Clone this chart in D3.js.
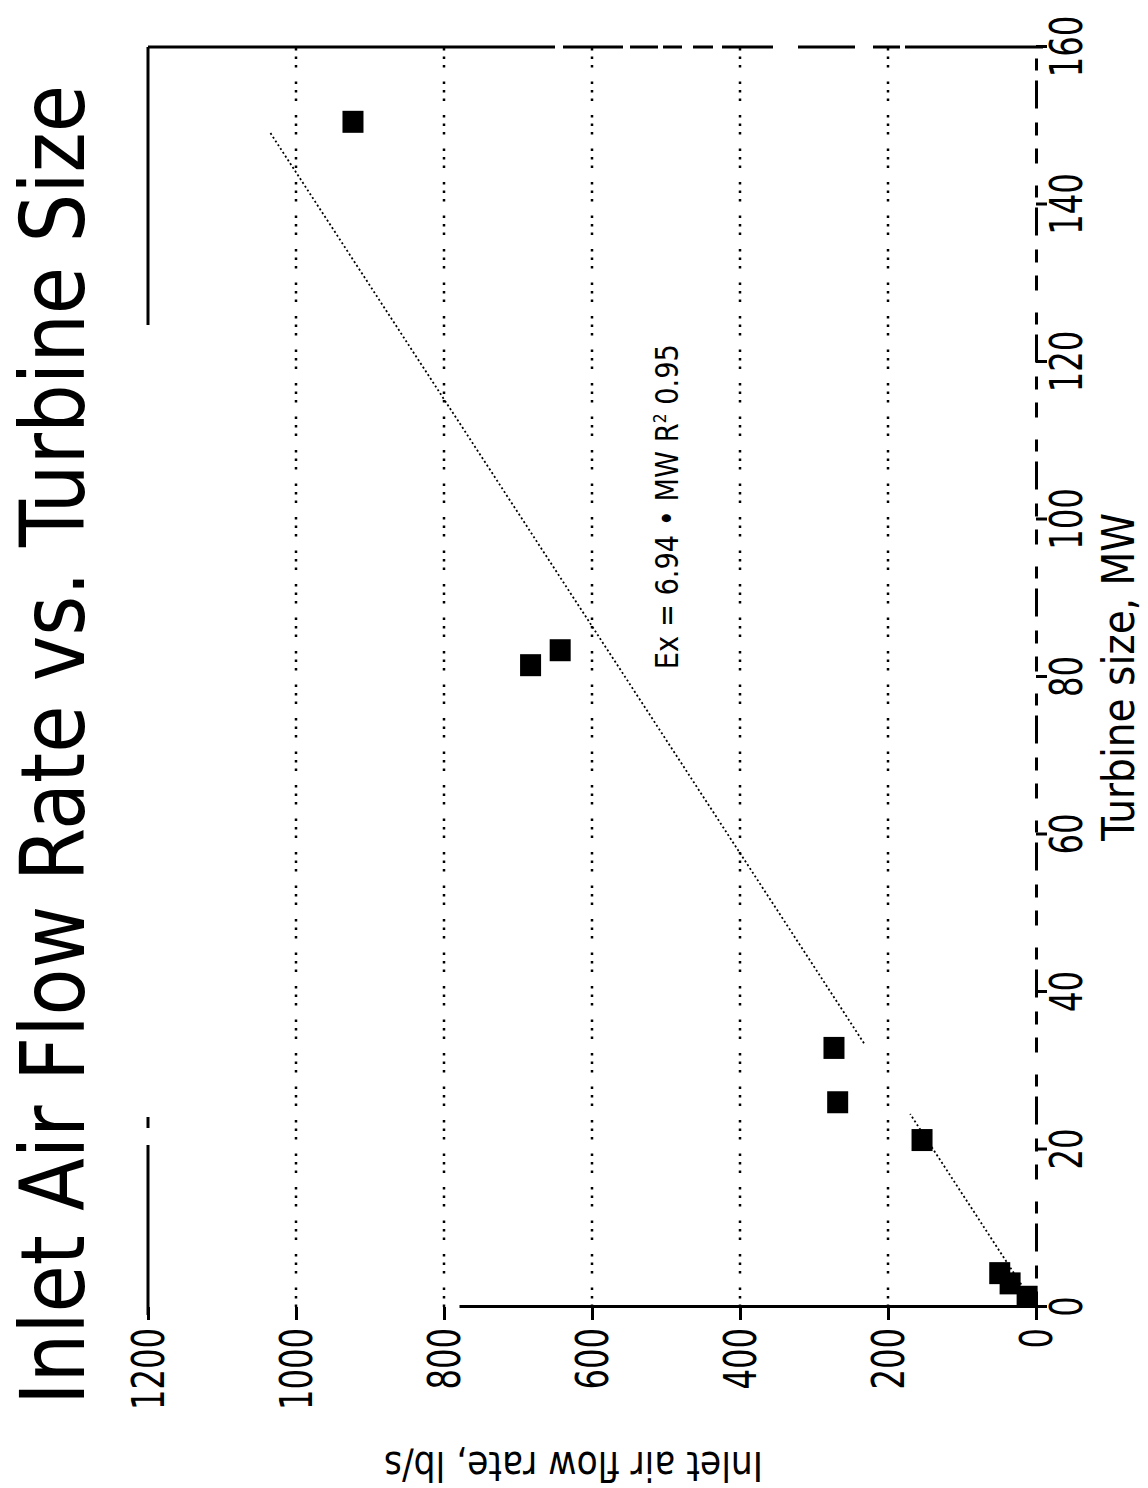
<!DOCTYPE html>
<html>
<head>
<meta charset="utf-8">
<script src="https://cdn.jsdelivr.net/npm/d3@7"></script>
<style>
  html, body { margin: 0; padding: 0; background: #fff; }
  svg { display: block; }
</style>
</head>
<body>
<svg id="chart" width="1148" height="1488"></svg>
<script>
// Turbine size (MW) and measured inlet air flow (lb/s) for each unit
const turbineMW = [1.3, 3.0, 4.3, 21.2, 26.0, 32.9, 81.5, 83.4, 150.5];
const airFlow   = [12, 35, 49, 154, 268, 273, 683, 643, 923];

// Linear fit through the origin: flow = fitSlope × MW
const fitSlope = 6.94;
const fitR2 = 0.95;
const fitSpans = [[0, 24.5], [33.5, 149.3]];

const mwTicks   = [0, 20, 40, 60, 80, 100, 120, 140, 160];
const flowTicks = [0, 200, 400, 600, 800, 1000, 1200];

const titleText = "Inlet Air Flow Rate vs. Turbine Size";
const xTitle = "Turbine size, MW";
const yTitle = "Inlet air flow rate, lb/s";

// The page is printed sideways: the chart is laid out in its own frame
// (1488 wide, 1148 tall) and turned a quarter turn counter-clockwise.
const FRAME_W = 1488, FRAME_H = 1148;
const FONT = "'DejaVu Sans Condensed','DejaVu Sans',sans-serif";

const svg = d3.select("#chart");
svg.append("rect").attr("width", 1148).attr("height", 1488).attr("fill", "#fff");
const g = svg.append("g").attr("transform", `translate(0,${FRAME_W}) rotate(-90)`);

const x = d3.scaleLinear().domain([0, 160]).range([181, 1441]);
const y = d3.scaleLinear().domain([0, 1200]).range([1036, 148]);

// squeeze text into a narrow face
const squeeze = (sel, perChar) =>
  sel.attr("textLength", d => String(d).length * perChar)
     .attr("lengthAdjust", "spacingAndGlyphs");

// dotted horizontal gridlines
g.append("g").selectAll("line")
  .data(flowTicks.filter(t => t > 0 && t < 1200))
  .join("line")
  .attr("x1", x(0)).attr("x2", x(160))
  .attr("y1", d => y(d)).attr("y2", d => y(d))
  .attr("stroke", "#000")
  .attr("stroke-width", 2.5)
  .attr("stroke-dasharray", "2.5,6,2.5,6,2.5,14");

// plot frame: top and right edges (worn print, broken strokes)
g.append("line")
  .attr("x1", x(0) - 8).attr("x2", x(160))
  .attr("y1", y(1200)).attr("y2", y(1200))
  .attr("stroke", "#000").attr("stroke-width", 3)
  .attr("stroke-dasharray", "170,17,11,792,300");
g.append("line")
  .attr("x1", x(160)).attr("x2", x(160))
  .attr("y1", y(1200)).attr("y2", y(0) + 7)
  .attr("stroke", "#000").attr("stroke-width", 3)
  .attr("stroke-dasharray", "407,8,60,7,28,5,19,11,20,9,51,25,57,18,27,5,138");

// flow axis
const yAxis = g.append("g")
  .attr("transform", `translate(${x(0)},0)`)
  .call(d3.axisLeft(y).tickValues(flowTicks).tickSize(13).tickSizeOuter(0).tickPadding(8).tickFormat(d3.format("d")));
yAxis.select(".domain")
  .attr("stroke-width", 3)
  .attr("stroke-dasharray", "577,2000");
yAxis.selectAll(".tick line").attr("stroke-width", 3);
yAxis.selectAll(".tick text")
  .attr("font-family", FONT).attr("font-size", 44).attr("fill", "#000")
  .attr("dy", "0.36em")
  .call(squeeze, 20.5);

// turbine size axis
const xAxis = g.append("g")
  .attr("transform", `translate(0,${y(0)})`)
  .call(d3.axisBottom(x).tickValues(mwTicks).tickSize(11).tickSizeOuter(0).tickPadding(4));
xAxis.select(".domain")
  .attr("stroke-width", 3)
  .attr("stroke-dasharray", "15,13,13,14,28,10,12,22");
xAxis.selectAll(".tick line").attr("stroke-width", 3);
xAxis.selectAll(".tick text")
  .attr("font-family", FONT).attr("font-size", 44).attr("fill", "#000")
  .call(squeeze, 20.5);

// fitted line
const line = d3.line().x(d => x(d[0])).y(d => y(d[1]));
g.append("g").selectAll("path")
  .data(fitSpans.map(([a, b]) => [[a, fitSlope * a], [b, fitSlope * b]]))
  .join("path")
  .attr("d", line)
  .attr("fill", "none")
  .attr("stroke", "#000")
  .attr("stroke-width", 1.8)
  .attr("stroke-dasharray", "2,2.5");

// data points
const pts = turbineMW.map((mw, i) => ({ mw, flow: airFlow[i] }));
g.append("g").selectAll("rect")
  .data(pts)
  .join("rect")
  .attr("x", d => x(d.mw) - 11)
  .attr("y", d => y(d.flow) - 10.5)
  .attr("width", 22).attr("height", 21)
  .attr("fill", "#000");

// fit equation
const note = g.append("text")
  .attr("x", x(81)).attr("y", y(484))
  .attr("font-family", FONT).attr("font-size", 32).attr("fill", "#000")
  .attr("textLength", 325).attr("lengthAdjust", "spacingAndGlyphs");
note.append("tspan").text(`Ex = ${fitSlope} • MW   R`);
note.append("tspan").attr("font-size", 18).attr("dy", -12).text("2");
note.append("tspan").attr("dy", 12).text(` ${fitR2}`);

// titles
g.append("text")
  .attr("x", 743).attr("y", 84)
  .attr("text-anchor", "middle")
  .attr("font-family", FONT).attr("font-size", 89).attr("fill", "#000")
  .attr("textLength", 1320).attr("lengthAdjust", "spacingAndGlyphs")
  .text(titleText);

g.append("text")
  .attr("x", x(80)).attr("y", 1134)
  .attr("text-anchor", "middle")
  .attr("font-family", FONT).attr("font-size", 45).attr("fill", "#000")
  .attr("textLength", 328).attr("lengthAdjust", "spacingAndGlyphs")
  .text(xTitle);

g.append("text")
  .attr("transform", `translate(36,${y(625)}) rotate(-90)`)
  .attr("text-anchor", "middle")
  .attr("font-family", FONT).attr("font-size", 40).attr("fill", "#000")
  .attr("textLength", 379).attr("lengthAdjust", "spacingAndGlyphs")
  .text(yTitle);
</script>
</body>
</html>
